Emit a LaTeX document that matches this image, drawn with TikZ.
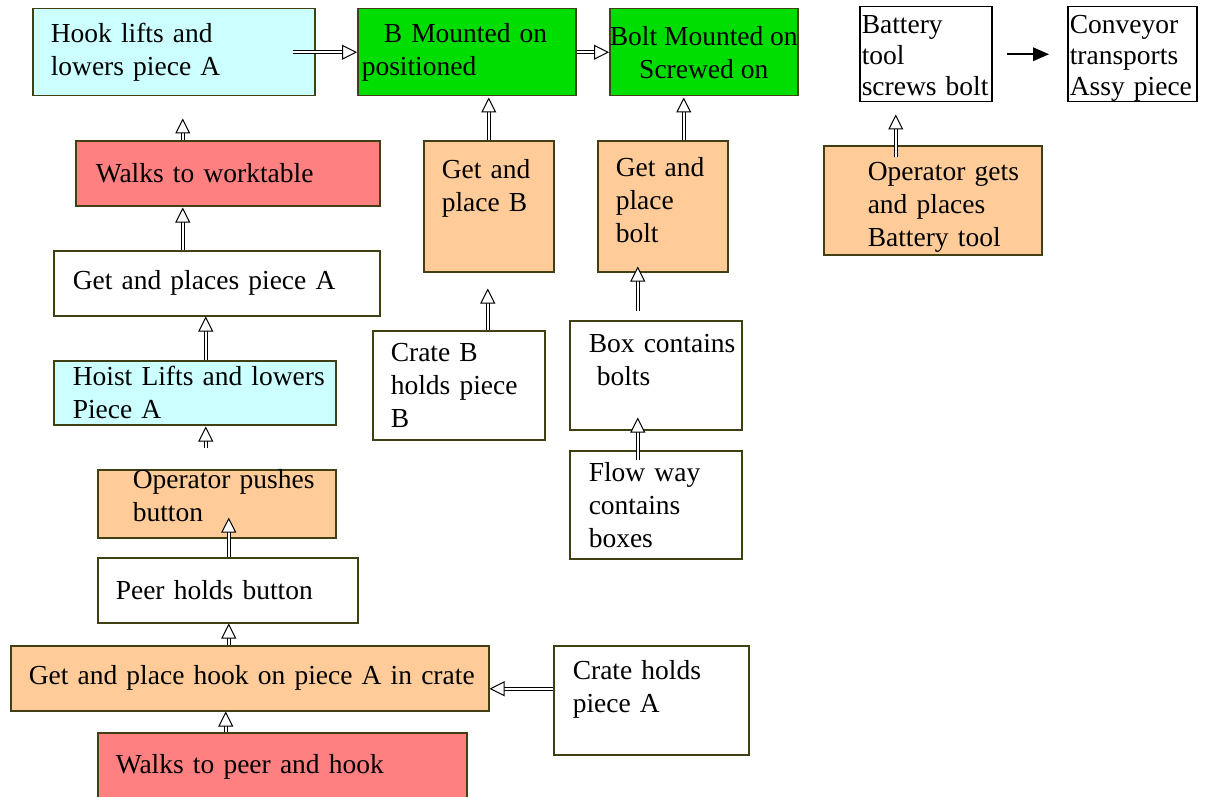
\documentclass[tikz,border=0pt]{standalone}
\usepackage{fontspec}
\setmainfont{Liberation Serif}
\usepackage{tikz}
\usetikzlibrary{arrows.meta,positioning}
\definecolor{edge}{HTML}{404014}
\definecolor{cyanbox}{HTML}{CCFFFF}
\definecolor{greenbox}{HTML}{00DD00}
\definecolor{redbox}{HTML}{FF8080}
\definecolor{orangebox}{HTML}{FFCC99}
\newcommand\boxfont{\fontsize{27.5}{33}\selectfont}
\begin{document}
\begin{tikzpicture}[x=1pt,y=-1pt,
box/.style={draw=edge,line width=1.5pt,anchor=north west,inner sep=0pt,align=left,font=\boxfont},
wh/.style 2 args={minimum width=#1pt,minimum height=#2pt,text width=#1pt},
pad/.style={execute at begin node={\leftskip=#1pt}},
dbl/.style={draw=black,line width=1pt,double=white,double distance=2pt,
  -{Triangle[open,fill=white,length=15pt,width=15pt,line width=1pt]}},
solidarrow/.style={draw=black,line width=2.5pt,-{Triangle[length=16pt,width=14pt,line width=0pt]}}]
\useasboundingbox (0,0) rectangle (1212,797);
% top row
\node[box,wh={282}{87},pad=18,fill=cyanbox] (hookA) at (32,8) {Hook lifts and\\lowers piece A};
\node[box,wh={218}{87},pad=4,fill=greenbox] (Bmount) at (357,8) {\hspace*{22pt}B Mounted on\\positioned};
\node[box,align=center,minimum width=188pt,minimum height=87pt,fill=greenbox] (boltmount) at (609,8) {Bolt Mounted on\\Screwed on};
\node[box,draw=black,wh={132}{95},pad=2,font=\fontsize{27.5}{31}\selectfont,text depth=60pt] (battery) at (859,6) {Battery\\tool\\screws bolt};
\node[box,draw=black,wh={129}{95},pad=2,font=\fontsize{27.5}{31}\selectfont,text depth=60pt] (conveyor) at (1067,6) {Conveyor\\transports\\Assy piece};
% left column
\node[box,wh={304}{65},pad=20,fill=redbox] (walksTable) at (75,140) {Walks to worktable};
\node[box,wh={326}{65},pad=19] (getA) at (53,250) {Get and places piece A};
\node[box,wh={282}{64},pad=19,fill=cyanbox] (hoist) at (53,360) {Hoist Lifts and lowers\\Piece A};
\node[box,wh={238}{65},pad=35,fill=orangebox,text depth=49pt] (pushes) at (97,469) {Operator pushes\\button};
\node[box,wh={260}{65},pad=18] (peer) at (97,557) {Peer holds button};
\node[box,wh={478}{65},pad=18,fill=orangebox] (getHook) at (10,645) {Get and place hook on piece A in crate};
\node[box,wh={195}{109},pad=19,text depth=61pt] (crateA) at (553,645) {Crate holds\\piece A};
\node[box,wh={369}{68},pad=18,fill=redbox] (walksPeer) at (97,732) {Walks to peer and hook};
% middle columns
\node[box,wh={130}{131},pad=18,fill=orangebox,text depth=75pt] (getB) at (423,140) {Get and\\place B};
\node[box,wh={172}{109},pad=18] (crateB) at (372,330) {Crate B\\holds piece\\B};
\node[box,wh={130}{131},pad=18,fill=orangebox,text depth=78pt] (getBolt) at (597,140) {Get and\\place\\bolt};
\node[box,wh={172}{109},pad=19,text depth=63pt] (boxBolts) at (569,320) {Box contains\\\hspace*{8pt}bolts};
\node[box,wh={172}{108},pad=19] (flow) at (569,450) {Flow way\\contains\\boxes};
\node[box,wh={218}{109},pad=44,fill=orangebox,text depth=58pt] (opBattery) at (823,145) {Operator gets\\and places\\Battery tool};
% connectors
\foreach \s/\sx/\sa/\t/\tx/\tb in {walksTable/-45/0/hookA/9/22, getA/-34/0/walksTable/-45/1,
  hoist/11/0/getA/-11/0, pushes/-11/21/hoist/11/1, peer/1/0/pushes/12/-21,
  getHook/-21/0/peer/1/0, walksPeer/-56.5/0/getHook/-24/0, getB/0/0/Bmount/22/1,
  crateB/29/0/getB/-1/16, getBolt/21/0/boltmount/-20/1, boxBolts/-18/9/getBolt/-25/-6,
  flow/-18/-10/boxBolts/-18/-13, opBattery/-37/-12/battery/-30/12}
{\draw[dbl,shorten <=\sa pt,shorten >=\tb pt] ([xshift=\sx pt]\s.north) -- ([xshift=\tx pt]\t.south);}
\draw[dbl,shorten <=-23pt] (hookA.east) -- (Bmount.west);
\draw[dbl] (Bmount.east) -- (boltmount.west);
\draw[dbl] ([yshift=11.5pt]crateA.west) -- ([yshift=-10.5pt]getHook.east);
\draw[solidarrow,shorten <=14pt,shorten >=18pt] (battery.east) -- (conveyor.west);
\end{tikzpicture}
\end{document}
